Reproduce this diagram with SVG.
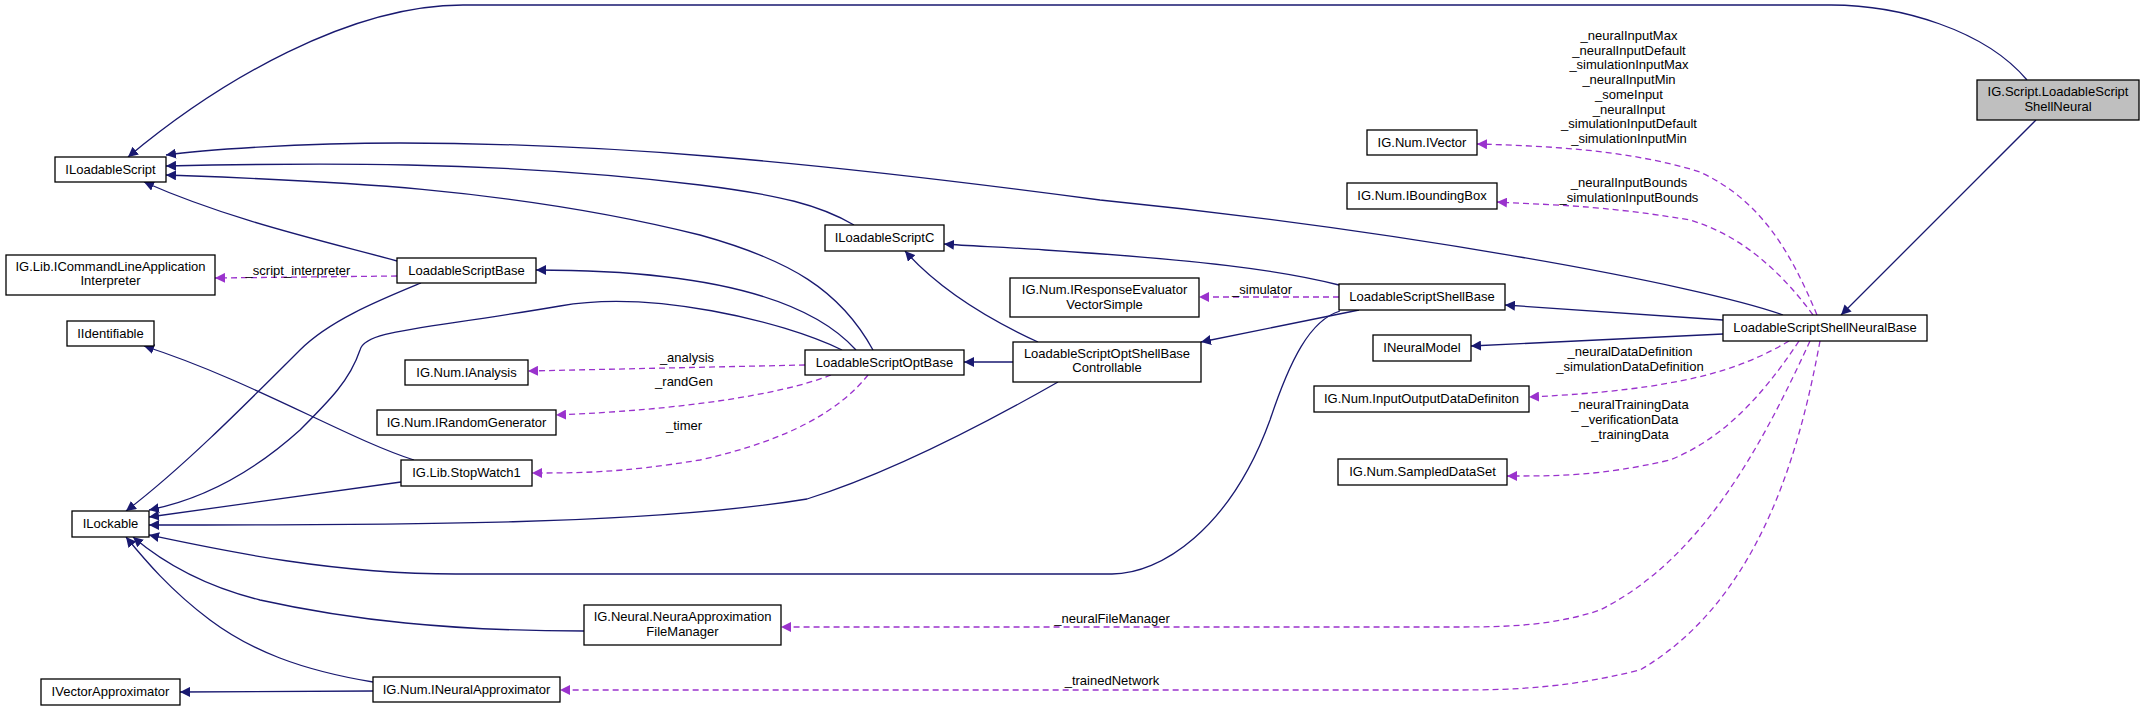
<svg xmlns="http://www.w3.org/2000/svg" width="2145" height="711" viewBox="0 0 2145 711">
<style>
text{font-family:"Liberation Sans",Arial,sans-serif;font-size:13px;fill:#000;text-anchor:middle}
.n rect{fill:#fff;stroke:#000;stroke-width:1.3}
.e{fill:none;stroke:#191970;stroke-width:1.3;marker-end:url(#b)}
.d{fill:none;stroke:#9a32cd;stroke-width:1.3;stroke-dasharray:6,4;marker-end:url(#p)}
</style>
<defs>
<marker id="b" viewBox="0 0 10 10" refX="10" refY="5" markerWidth="10" markerHeight="10" markerUnits="userSpaceOnUse" orient="auto"><path d="M0,0L10,5L0,10z" fill="#191970"/></marker>
<marker id="p" viewBox="0 0 10 10" refX="10" refY="5" markerWidth="10" markerHeight="10" markerUnits="userSpaceOnUse" orient="auto"><path d="M0,0L10,5L0,10z" fill="#9a32cd"/></marker>
</defs>
<rect width="2145" height="711" fill="#fff"/>
<g id="edges">
<path class="e" d="M2027,80 C1985,30 1900,5 1831,5 L463,5 C350,5 220,80 128,157"/>
<path class="e" d="M2036,120 L1841,315"/>
<path class="e" d="M1783,315 C1700,285 1400,230 1100,200 C800,160 600,143 400,143 C300,143 200,150 166,155"/>
<path class="e" d="M854,225 C820,205 780,195 700,185 C500,160 300,163 166,166"/>
<path class="e" d="M873,350 C840,290 790,260 700,235 C500,185 300,180 166,175"/>
<path class="e" d="M397,261 C320,240 230,220 144,182"/>
<path class="e" d="M856,350 C820,310 740,270 536,270"/>
<path class="e" d="M1339,285 C1280,270 1200,260 1045,250 C1000,247 970,246 944,244"/>
<path class="e" d="M1038,342 C990,320 940,290 905,251"/>
<path class="e" d="M1013,362 L964,362"/>
<path class="e" d="M1359,310 L1201,342"/>
<path class="e" d="M1723,320 L1505,305"/>
<path class="e" d="M1723,334 L1471,346"/>
<path class="e" d="M842,350 C780,320 650,290 560,306 C420,330 365,330 360,350 C350,380 330,400 300,430 C250,475 200,500 149,510"/>
<path class="e" d="M421,283 C380,300 330,320 300,350 C240,410 180,470 126,511"/>
<path class="e" d="M414,460 C350,440 250,380 144,346"/>
<path class="e" d="M401,482 L149,517"/>
<path class="e" d="M1058,382 C1000,415 900,470 807,499 C650,525 400,525 149,525"/>
<path class="e" d="M1340,311 C1310,320 1290,360 1270,420 C1230,530 1160,574 1112,574 L456,574 C330,574 220,550 149,535"/>
<path class="e" d="M584,631 C450,631 350,620 260,600 C200,585 160,560 133,537"/>
<path class="e" d="M373,682 C300,670 250,650 210,620 C170,590 145,560 126,537"/>
<path class="e" d="M373,691 L180,692"/>
<path class="d" d="M397,276 L215,278"/>
<path class="d" d="M805,365 L528,371"/>
<path class="d" d="M831,375 C780,395 680,410 556,415"/>
<path class="d" d="M868,375 C840,410 790,440 700,460 C620,473 580,473 532,473"/>
<path class="d" d="M1339,297 L1199,297"/>
<path class="d" d="M1817,315 C1790,250 1760,200 1700,172 C1630,150 1550,146 1477,144"/>
<path class="d" d="M1813,315 C1780,270 1740,235 1690,220 C1600,205 1550,205 1497,202"/>
<path class="d" d="M1789,341 C1740,370 1680,390 1529,397"/>
<path class="d" d="M1799,341 C1760,400 1720,440 1670,460 C1600,476 1560,476 1507,476"/>
<path class="d" d="M1810,341 C1760,450 1700,560 1600,610 C1550,627 1500,627 1450,627 L781,627"/>
<path class="d" d="M1820,341 C1800,450 1760,600 1640,670 C1560,690 1500,690 1450,690 L560,690"/>
<text x="298" y="275">_script_interpreter</text>
<text x="687" y="362">_analysis</text>
<text x="684" y="386">_randGen</text>
<text x="684" y="430">_timer</text>
<text x="1262" y="294">_simulator</text>
<text x="1629" y="40">_neuralInputMax</text>
<text x="1629" y="54.7">_neuralInputDefault</text>
<text x="1629" y="69.4">_simulationInputMax</text>
<text x="1629" y="84.1">_neuralInputMin</text>
<text x="1629" y="98.8">_someInput</text>
<text x="1629" y="113.5">_neuralInput</text>
<text x="1629" y="128.2">_simulationInputDefault</text>
<text x="1629" y="142.9">_simulationInputMin</text>
<text x="1629" y="187">_neuralInputBounds</text>
<text x="1629" y="201.5">_simulationInputBounds</text>
<text x="1630" y="356">_neuralDataDefinition</text>
<text x="1630" y="371">_simulationDataDefinition</text>
<text x="1630" y="409">_neuralTrainingData</text>
<text x="1630" y="424">_verificationData</text>
<text x="1630" y="439">_trainingData</text>
<text x="1112" y="623">_neuralFileManager</text>
<text x="1112" y="685">_trainedNetwork</text>
</g>
<g id="n1" class="n"><rect x="55" y="157" width="111" height="25"/><text x="110.5" y="174">ILoadableScript</text></g>
<g id="n2" class="n"><rect x="6" y="255" width="209" height="40"/><text x="110.5" y="271">IG.Lib.ICommandLineApplication</text><text x="110.5" y="285">Interpreter</text></g>
<g id="n3" class="n"><rect x="67" y="321" width="87" height="25"/><text x="110.5" y="338">IIdentifiable</text></g>
<g id="n4" class="n"><rect x="72" y="511" width="77" height="26"/><text x="110.5" y="528">ILockable</text></g>
<g id="n5" class="n"><rect x="41" y="679" width="139" height="26"/><text x="110.5" y="696">IVectorApproximator</text></g>
<g id="n6" class="n"><rect x="397" y="258" width="139" height="25"/><text x="466.5" y="275">LoadableScriptBase</text></g>
<g id="n7" class="n"><rect x="405" y="360" width="123" height="25"/><text x="466.5" y="377">IG.Num.IAnalysis</text></g>
<g id="n8" class="n"><rect x="377" y="410" width="179" height="25"/><text x="466.5" y="427">IG.Num.IRandomGenerator</text></g>
<g id="n9" class="n"><rect x="401" y="460" width="131" height="26"/><text x="466.5" y="477">IG.Lib.StopWatch1</text></g>
<g id="n10" class="n"><rect x="584" y="605" width="197" height="40"/><text x="682.5" y="621">IG.Neural.NeuraApproximation</text><text x="682.5" y="636">FileManager</text></g>
<g id="n11" class="n"><rect x="373" y="677" width="187" height="25"/><text x="466.5" y="694">IG.Num.INeuralApproximator</text></g>
<g id="n12" class="n"><rect x="825" y="225" width="119" height="26"/><text x="884.5" y="242">ILoadableScriptC</text></g>
<g id="n13" class="n"><rect x="805" y="350" width="159" height="25"/><text x="884.5" y="367">LoadableScriptOptBase</text></g>
<g id="n14" class="n"><rect x="1013" y="342" width="188" height="40"/><text x="1107" y="358">LoadableScriptOptShellBase</text><text x="1107" y="372">Controllable</text></g>
<g id="n15" class="n"><rect x="1010" y="278" width="189" height="39"/><text x="1104.5" y="294">IG.Num.IResponseEvaluator</text><text x="1104.5" y="309">VectorSimple</text></g>
<g id="n16" class="n"><rect x="1339" y="284" width="166" height="26"/><text x="1422" y="301">LoadableScriptShellBase</text></g>
<g id="n17" class="n"><rect x="1367" y="130" width="110" height="25"/><text x="1422" y="147">IG.Num.IVector</text></g>
<g id="n18" class="n"><rect x="1347" y="183" width="150" height="26"/><text x="1422" y="200">IG.Num.IBoundingBox</text></g>
<g id="n19" class="n"><rect x="1373" y="335" width="98" height="26"/><text x="1422" y="352">INeuralModel</text></g>
<g id="n20" class="n"><rect x="1314" y="386" width="215" height="26"/><text x="1421.5" y="403">IG.Num.InputOutputDataDefiniton</text></g>
<g id="n21" class="n"><rect x="1338" y="459" width="169" height="26"/><text x="1422.5" y="476">IG.Num.SampledDataSet</text></g>
<g id="n22" class="n"><rect x="1723" y="315" width="204" height="26"/><text x="1825" y="332">LoadableScriptShellNeuralBase</text></g>
<g id="n23" class="n"><rect x="1977" y="80" width="162" height="40" style="fill:#bfbfbf"/><text x="2058" y="96">IG.Script.LoadableScript</text><text x="2058" y="111">ShellNeural</text></g>
</svg>
